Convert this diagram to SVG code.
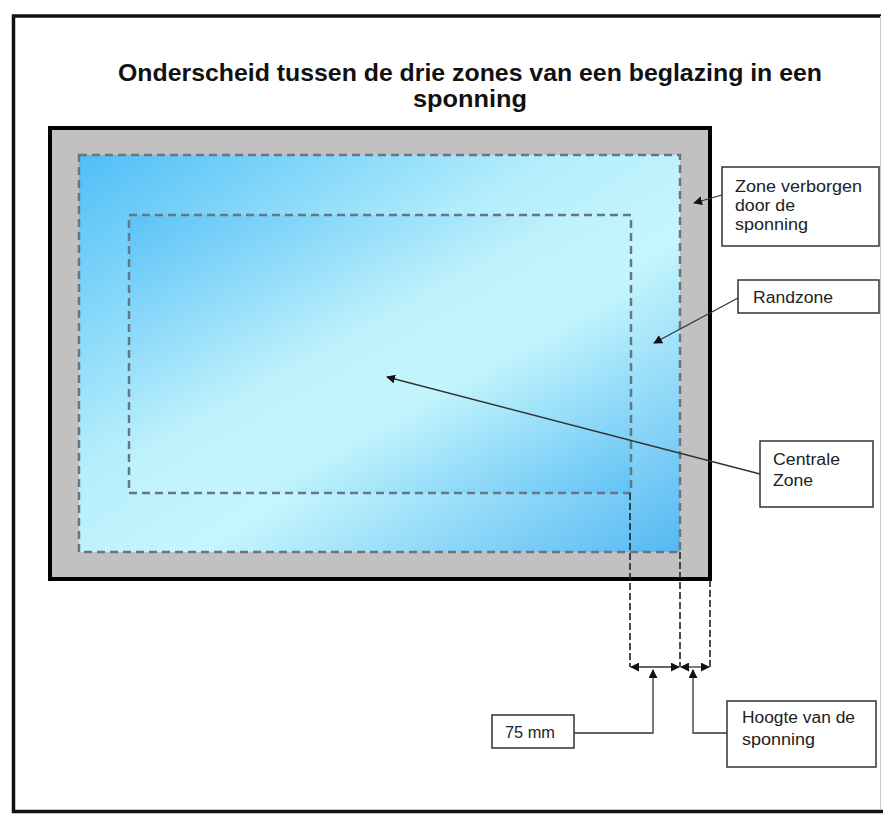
<svg xmlns="http://www.w3.org/2000/svg" width="883" height="814" viewBox="0 0 883 814">
<defs>
<linearGradient id="gOuter" x1="0" y1="0" x2="1" y2="1">
<stop offset="0" stop-color="#4fbef7"/>
<stop offset="0.4" stop-color="#b5eefc"/>
<stop offset="0.6" stop-color="#c6f6fd"/>
<stop offset="1" stop-color="#55b8f3"/>
</linearGradient>
<linearGradient id="gInner" x1="0" y1="0" x2="1" y2="1">
<stop offset="0" stop-color="#5cc2f7"/>
<stop offset="0.45" stop-color="#c0f2fc"/>
<stop offset="0.62" stop-color="#c4f5fd"/>
<stop offset="1" stop-color="#62c2f5"/>
</linearGradient>
<marker id="ah" viewBox="0 0 10 10" refX="9" refY="5" markerWidth="9" markerHeight="9" markerUnits="userSpaceOnUse" orient="auto">
<path d="M0,0 L10,5 L0,10 z" fill="#111"/>
</marker>
<marker id="ahs" viewBox="0 0 10 10" refX="1" refY="5" markerWidth="9" markerHeight="9" markerUnits="userSpaceOnUse" orient="auto">
<path d="M10,0 L0,5 L10,10 z" fill="#111"/>
</marker>
<style>
.t{font-family:"Liberation Sans",Arial,sans-serif;fill:#111}
.title{font-size:24px;font-weight:bold}
.lbl{font-size:16px;fill:#222}
.box{fill:#fff;stroke:#333;stroke-width:1.5}
.lead{fill:none;stroke:#333;stroke-width:1.3}
.zone{stroke:#637789;stroke-width:2.5;stroke-dasharray:8 5}
.dim{fill:none;stroke:#222;stroke-width:1.6;stroke-dasharray:7 3}
</style>
</defs>
<rect width="883" height="814" fill="#fff"/>
<g id="page">
<path d="M881,16 H13.5 V811.5 H883" fill="none" stroke="#111" stroke-width="3.5"/>
<line x1="880.5" y1="16" x2="880.5" y2="810" stroke="#c8c8c8" stroke-width="1"/>
</g>
<g id="title">
<text class="t title" x="118" y="81" textLength="704" lengthAdjust="spacingAndGlyphs">Onderscheid tussen de drie zones van een beglazing in een</text>
<text class="t title" x="413" y="107" textLength="114" lengthAdjust="spacingAndGlyphs">sponning</text>
</g>
<g id="frame">
<rect x="50" y="128" width="660" height="451" fill="#c2c0c0" stroke="#000" stroke-width="4"/>
</g>
<g id="randzone">
<rect class="zone" x="79" y="155" width="601" height="397" fill="url(#gOuter)"/>
</g>
<g id="centrale-zone">
<rect class="zone" x="129" y="215" width="502" height="278" fill="url(#gInner)"/>
</g>
<g id="box-verborgen">
<rect class="box" x="722" y="167" width="157" height="79"/>
<text class="t lbl" x="735" y="192" textLength="127" lengthAdjust="spacingAndGlyphs">Zone verborgen</text>
<text class="t lbl" x="735" y="211" textLength="60" lengthAdjust="spacingAndGlyphs">door de</text>
<text class="t lbl" x="735" y="230" textLength="73" lengthAdjust="spacingAndGlyphs">sponning</text>
</g>
<g id="box-randzone">
<rect class="box" x="738" y="280" width="141" height="33"/>
<text class="t lbl" x="753" y="303" textLength="80" lengthAdjust="spacingAndGlyphs">Randzone</text>
</g>
<g id="box-centrale">
<rect class="box" x="760" y="441" width="113" height="66"/>
<text class="t lbl" x="773" y="465" textLength="67" lengthAdjust="spacingAndGlyphs">Centrale</text>
<text class="t lbl" x="773" y="486" textLength="40" lengthAdjust="spacingAndGlyphs">Zone</text>
</g>
<g id="box-75mm">
<rect class="box" x="492" y="715" width="82" height="33"/>
<text class="t lbl" x="505" y="738" textLength="50" lengthAdjust="spacingAndGlyphs">75 mm</text>
</g>
<g id="box-hoogte">
<rect class="box" x="727" y="701" width="149" height="66"/>
<text class="t lbl" x="742" y="723" textLength="113" lengthAdjust="spacingAndGlyphs">Hoogte van de</text>
<text class="t lbl" x="742" y="745" textLength="73" lengthAdjust="spacingAndGlyphs">sponning</text>
</g>
<g id="connectors">
<line class="lead" x1="722" y1="195" x2="694" y2="203" marker-end="url(#ah)"/>
<line class="lead" x1="738" y1="298" x2="654" y2="343" marker-end="url(#ah)"/>
<line class="lead" x1="760" y1="474" x2="387" y2="377" marker-end="url(#ah)"/>
<line class="dim" x1="630" y1="493" x2="630" y2="667"/>
<line class="dim" x1="680" y1="552" x2="680" y2="667"/>
<line class="dim" x1="710" y1="580" x2="710" y2="667"/>
<line class="lead" x1="631" y1="667" x2="679" y2="667" marker-start="url(#ahs)" marker-end="url(#ah)"/>
<line class="lead" x1="681" y1="667" x2="709" y2="667" marker-start="url(#ahs)" marker-end="url(#ah)"/>
<polyline class="lead" points="574,733 653,733 653,670" marker-end="url(#ah)"/>
<polyline class="lead" points="727,733 693,733 693,670" marker-end="url(#ah)"/>
</g>
</svg>
